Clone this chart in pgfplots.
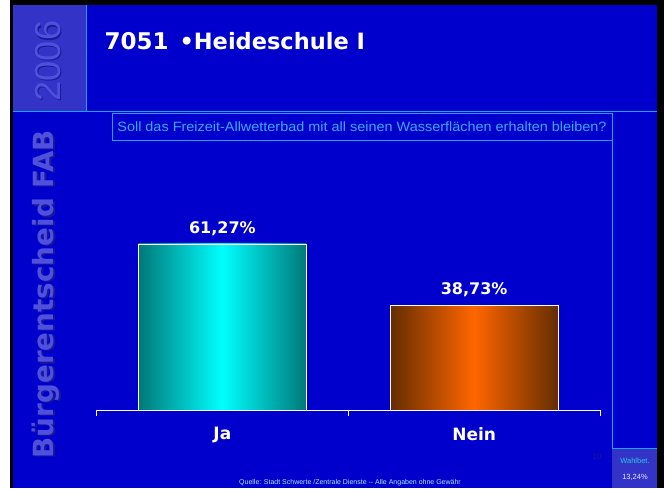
\documentclass[border=0pt]{standalone}
\usepackage{pgfplots}
\pgfplotsset{compat=1.18}
\usepackage{fontspec}
\setmainfont{DejaVu Sans}
\newfontfamily\arial{Liberation Sans}
\definecolor{bg}{RGB}{0,0,204}
\definecolor{boxblue}{RGB}{51,51,200}
\definecolor{linecyan}{RGB}{30,160,255}
\definecolor{qtext}{RGB}{60,170,255}
\definecolor{ghost}{RGB}{80,80,222}
\definecolor{ghostdark}{RGB}{25,25,150}
\definecolor{tealdark}{RGB}{0,120,120}
\definecolor{browndark}{RGB}{100,45,0}
\definecolor{orng}{RGB}{255,102,0}
\definecolor{wcyan}{RGB}{40,200,230}
\begin{document}
\begin{tikzpicture}[x=1pt,y=1pt]
\useasboundingbox (0,0) rectangle (664,488);
\fill[white] (0,0) rectangle (664,488);
\fill[black] (10,0) rectangle (664,488);
\fill[bg] (13,0) rectangle (657,483);
\fill[boxblue] (13,376) rectangle (86,483);
\draw[linecyan, line width=1pt] (86,483) -- (86,376);
\draw[linecyan, line width=1pt] (13,376) -- (657,376);
\draw[linecyan, line width=0.8pt] (112,375) rectangle (612,348);
\draw[linecyan, line width=0.8pt] (612,348) -- (612,40);
\fill[boxblue] (612,0) rectangle (657,40);
\draw[linecyan, line width=0.8pt] (612,40) -- (657,40);
% ghost texts
\node[rotate=90, text=ghostdark, font=\arial\fontsize{36}{36}\selectfont] at (49.2,425.8) {2006};
\node[rotate=90, text=ghost, font=\arial\fontsize{36}{36}\selectfont] at (48,427) {2006};
\node[rotate=90, text=ghostdark, font=\bfseries\fontsize{27.8}{27.8}\selectfont] at (47.3,192.7) {Bürgerentscheid FAB};
\node[rotate=90, text=ghost, font=\bfseries\fontsize{27.8}{27.8}\selectfont] at (46,194) {Bürgerentscheid FAB};
% title
\node[anchor=base west, text=white, font=\bfseries\fontsize{23}{23}\selectfont] at (101,438) {7051};
\node[anchor=base west, text=white, font=\bfseries\fontsize{22.5}{22.5}\selectfont] at (176,438) {•Heideschule I};
% question
\node[text=qtext, font=\arial\fontsize{13.5}{13.5}\selectfont] at (362,361) {\scalebox{1.07}[1]{Soll das Freizeit-Allwetterbad mit all seinen Wasserflächen erhalten bleiben?}};
% footer
\node[text=wcyan!40!white, font=\arial\fontsize{7}{7}\selectfont] at (350,5) {Quelle: Stadt Schwerte /Zentrale Dienste -- Alle Angaben ohne Gewähr};
\node[text=wcyan, font=\arial\fontsize{7.5}{7.5}\selectfont] at (635,27) {Wahlbet.};
\node[text=white!90!blue, font=\arial\fontsize{7.5}{7.5}\selectfont] at (635,11) {13,24\%};
\node[text=ghostdark, font=\arial\fontsize{8}{8}\selectfont] at (597,31) {10};
\begin{axis}[
  at={(96.5pt,78pt)}, anchor=south west,
  scale only axis, width=503.5pt, height=189.7pt,
  xmin=-0.5, xmax=1.5, ymin=0, ymax=70,
  axis x line*=bottom, axis y line=none,
  x axis line style={white, line width=1pt},
  xtick={-0.5,0.5,1.5}, xticklabels={},
  tick align=outside, major tick length=6pt,
  every tick/.style={white, line width=1pt},
  extra x ticks={0,1}, extra x tick labels={Ja,Nein},
  extra x tick style={major tick length=0pt},
  xticklabel style={text=white, font=\bfseries\fontsize{17}{17}\selectfont, yshift=-14pt},
  ytick=\empty,
  clip=false,
  every node near coord/.append style={text=white, font=\bfseries\fontsize{16}{16}\selectfont, anchor=center, yshift=15pt},
]
\addplot[ybar, bar width=168pt, draw=white, line width=0.8pt, left color=tealdark, right color=tealdark, middle color=cyan, nodes near coords={61,27\%}] coordinates {(0,61.27)};
\addplot[ybar, bar width=168pt, draw=white, line width=0.8pt, left color=browndark, right color=browndark, middle color=orng, nodes near coords={38,73\%}] coordinates {(1,38.73)};
\end{axis}
\end{tikzpicture}
\end{document}
